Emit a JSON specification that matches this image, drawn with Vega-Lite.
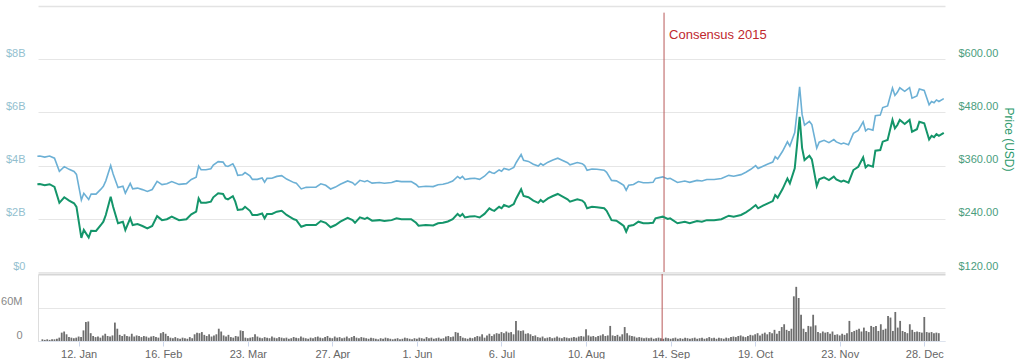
{
  "$schema": "https://vega.github.io/schema/vega-lite/v6.json",
  "padding": {"left": 0, "top": 6, "right": 0, "bottom": 0},
  "spacing": 0,
  "config": {
    "view": {"stroke": null},
    "font": "Liberation Sans",
    "axis": {"labelFont": "Liberation Sans", "titleFont": "Liberation Sans", "labelFontSize": 11}
  },
  "datasets": {
    "series": [
      {"date": "2014-12-28", "market_cap_bn": 4.352, "price": 318},
      {"date": "2014-12-29", "market_cap_bn": 4.360, "price": 318.5},
      {"date": "2014-12-31", "market_cap_bn": 4.321, "price": 315.5},
      {"date": "2015-01-02", "market_cap_bn": 4.358, "price": 318},
      {"date": "2015-01-04", "market_cap_bn": 4.278, "price": 312},
      {"date": "2015-01-06", "market_cap_bn": 3.786, "price": 276},
      {"date": "2015-01-08", "market_cap_bn": 3.960, "price": 288.5},
      {"date": "2015-01-10", "market_cap_bn": 3.859, "price": 281},
      {"date": "2015-01-12", "market_cap_bn": 3.778, "price": 275},
      {"date": "2015-01-13", "market_cap_bn": 3.669, "price": 267},
      {"date": "2015-01-15", "market_cap_bn": 2.709, "price": 197},
      {"date": "2015-01-16", "market_cap_bn": 2.957, "price": 215},
      {"date": "2015-01-18", "market_cap_bn": 2.725, "price": 198},
      {"date": "2015-01-19", "market_cap_bn": 2.932, "price": 213},
      {"date": "2015-01-21", "market_cap_bn": 2.927, "price": 212.5},
      {"date": "2015-01-23", "market_cap_bn": 3.114, "price": 226},
      {"date": "2015-01-24", "market_cap_bn": 3.218, "price": 233.5},
      {"date": "2015-01-25", "market_cap_bn": 3.427, "price": 248.6},
      {"date": "2015-01-27", "market_cap_bn": 4.000, "price": 290},
      {"date": "2015-01-28", "market_cap_bn": 3.684, "price": 267},
      {"date": "2015-01-30", "market_cap_bn": 3.175, "price": 230},
      {"date": "2015-02-01", "market_cap_bn": 3.225, "price": 233.5},
      {"date": "2015-02-02", "market_cap_bn": 2.966, "price": 214.7},
      {"date": "2015-02-04", "market_cap_bn": 3.331, "price": 241},
      {"date": "2015-02-05", "market_cap_bn": 3.125, "price": 226},
      {"date": "2015-02-07", "market_cap_bn": 3.154, "price": 228},
      {"date": "2015-02-09", "market_cap_bn": 3.097, "price": 223.8},
      {"date": "2015-02-11", "market_cap_bn": 3.027, "price": 218.6},
      {"date": "2015-02-13", "market_cap_bn": 3.101, "price": 223.8},
      {"date": "2015-02-15", "market_cap_bn": 3.410, "price": 246},
      {"date": "2015-02-17", "market_cap_bn": 3.287, "price": 237},
      {"date": "2015-02-19", "market_cap_bn": 3.316, "price": 239},
      {"date": "2015-02-21", "market_cap_bn": 3.399, "price": 244.8},
      {"date": "2015-02-24", "market_cap_bn": 3.293, "price": 237},
      {"date": "2015-02-27", "market_cap_bn": 3.323, "price": 239},
      {"date": "2015-03-01", "market_cap_bn": 3.478, "price": 250},
      {"date": "2015-03-03", "market_cap_bn": 3.564, "price": 256},
      {"date": "2015-03-04", "market_cap_bn": 3.982, "price": 286},
      {"date": "2015-03-05", "market_cap_bn": 3.844, "price": 276},
      {"date": "2015-03-07", "market_cap_bn": 3.846, "price": 276},
      {"date": "2015-03-09", "market_cap_bn": 3.884, "price": 278.6},
      {"date": "2015-03-10", "market_cap_bn": 4.023, "price": 288.5},
      {"date": "2015-03-12", "market_cap_bn": 4.151, "price": 297.5},
      {"date": "2015-03-14", "market_cap_bn": 4.132, "price": 296},
      {"date": "2015-03-15", "market_cap_bn": 3.993, "price": 286},
      {"date": "2015-03-16", "market_cap_bn": 3.966, "price": 284},
      {"date": "2015-03-18", "market_cap_bn": 4.066, "price": 291},
      {"date": "2015-03-19", "market_cap_bn": 3.894, "price": 278.6},
      {"date": "2015-03-20", "market_cap_bn": 3.635, "price": 260},
      {"date": "2015-03-22", "market_cap_bn": 3.658, "price": 261.5},
      {"date": "2015-03-23", "market_cap_bn": 3.736, "price": 267},
      {"date": "2015-03-25", "market_cap_bn": 3.612, "price": 258},
      {"date": "2015-03-26", "market_cap_bn": 3.481, "price": 248.6},
      {"date": "2015-03-28", "market_cap_bn": 3.483, "price": 248.6},
      {"date": "2015-03-30", "market_cap_bn": 3.532, "price": 252},
      {"date": "2015-03-31", "market_cap_bn": 3.379, "price": 241},
      {"date": "2015-04-01", "market_cap_bn": 3.520, "price": 251},
      {"date": "2015-04-03", "market_cap_bn": 3.522, "price": 251},
      {"date": "2015-04-05", "market_cap_bn": 3.594, "price": 256},
      {"date": "2015-04-07", "market_cap_bn": 3.624, "price": 258},
      {"date": "2015-04-09", "market_cap_bn": 3.494, "price": 248.6},
      {"date": "2015-04-12", "market_cap_bn": 3.361, "price": 239},
      {"date": "2015-04-13", "market_cap_bn": 3.334, "price": 237},
      {"date": "2015-04-15", "market_cap_bn": 3.124, "price": 222},
      {"date": "2015-04-17", "market_cap_bn": 3.183, "price": 226},
      {"date": "2015-04-19", "market_cap_bn": 3.184, "price": 226},
      {"date": "2015-04-21", "market_cap_bn": 3.186, "price": 226},
      {"date": "2015-04-23", "market_cap_bn": 3.314, "price": 235},
      {"date": "2015-04-25", "market_cap_bn": 3.259, "price": 231},
      {"date": "2015-04-27", "market_cap_bn": 3.120, "price": 221},
      {"date": "2015-04-29", "market_cap_bn": 3.192, "price": 226},
      {"date": "2015-05-01", "market_cap_bn": 3.300, "price": 233.5},
      {"date": "2015-05-04", "market_cap_bn": 3.423, "price": 242},
      {"date": "2015-05-06", "market_cap_bn": 3.354, "price": 237},
      {"date": "2015-05-07", "market_cap_bn": 3.270, "price": 231},
      {"date": "2015-05-09", "market_cap_bn": 3.447, "price": 243.4},
      {"date": "2015-05-11", "market_cap_bn": 3.393, "price": 239.5},
      {"date": "2015-05-12", "market_cap_bn": 3.437, "price": 242.5},
      {"date": "2015-05-14", "market_cap_bn": 3.342, "price": 235.7},
      {"date": "2015-05-17", "market_cap_bn": 3.363, "price": 237},
      {"date": "2015-05-19", "market_cap_bn": 3.336, "price": 235},
      {"date": "2015-05-22", "market_cap_bn": 3.367, "price": 237},
      {"date": "2015-05-24", "market_cap_bn": 3.426, "price": 241},
      {"date": "2015-05-26", "market_cap_bn": 3.399, "price": 239},
      {"date": "2015-05-30", "market_cap_bn": 3.402, "price": 239},
      {"date": "2015-06-01", "market_cap_bn": 3.290, "price": 231},
      {"date": "2015-06-02", "market_cap_bn": 3.198, "price": 224.5},
      {"date": "2015-06-05", "market_cap_bn": 3.222, "price": 226},
      {"date": "2015-06-08", "market_cap_bn": 3.211, "price": 225},
      {"date": "2015-06-10", "market_cap_bn": 3.283, "price": 230},
      {"date": "2015-06-12", "market_cap_bn": 3.299, "price": 231},
      {"date": "2015-06-14", "market_cap_bn": 3.344, "price": 234},
      {"date": "2015-06-16", "market_cap_bn": 3.417, "price": 239},
      {"date": "2015-06-18", "market_cap_bn": 3.591, "price": 251},
      {"date": "2015-06-19", "market_cap_bn": 3.520, "price": 246},
      {"date": "2015-06-20", "market_cap_bn": 3.592, "price": 251},
      {"date": "2015-06-21", "market_cap_bn": 3.479, "price": 243},
      {"date": "2015-06-23", "market_cap_bn": 3.509, "price": 245},
      {"date": "2015-06-25", "market_cap_bn": 3.525, "price": 246},
      {"date": "2015-06-27", "market_cap_bn": 3.484, "price": 243},
      {"date": "2015-06-29", "market_cap_bn": 3.600, "price": 251},
      {"date": "2015-07-01", "market_cap_bn": 3.783, "price": 263.6},
      {"date": "2015-07-02", "market_cap_bn": 3.732, "price": 260},
      {"date": "2015-07-03", "market_cap_bn": 3.705, "price": 258},
      {"date": "2015-07-05", "market_cap_bn": 3.836, "price": 267},
      {"date": "2015-07-06", "market_cap_bn": 3.789, "price": 263.7},
      {"date": "2015-07-07", "market_cap_bn": 3.895, "price": 271},
      {"date": "2015-07-09", "market_cap_bn": 3.839, "price": 267},
      {"date": "2015-07-11", "market_cap_bn": 3.934, "price": 273.4},
      {"date": "2015-07-12", "market_cap_bn": 4.116, "price": 286},
      {"date": "2015-07-14", "market_cap_bn": 4.414, "price": 306.6},
      {"date": "2015-07-15", "market_cap_bn": 4.197, "price": 291.4},
      {"date": "2015-07-17", "market_cap_bn": 4.157, "price": 288.5},
      {"date": "2015-07-19", "market_cap_bn": 4.051, "price": 281},
      {"date": "2015-07-21", "market_cap_bn": 3.981, "price": 276},
      {"date": "2015-07-22", "market_cap_bn": 4.074, "price": 282.4},
      {"date": "2015-07-23", "market_cap_bn": 4.012, "price": 278},
      {"date": "2015-07-25", "market_cap_bn": 4.129, "price": 286},
      {"date": "2015-07-27", "market_cap_bn": 4.209, "price": 291.4},
      {"date": "2015-07-29", "market_cap_bn": 4.278, "price": 296},
      {"date": "2015-07-31", "market_cap_bn": 4.193, "price": 290},
      {"date": "2015-08-02", "market_cap_bn": 4.109, "price": 284},
      {"date": "2015-08-03", "market_cap_bn": 4.031, "price": 278.6},
      {"date": "2015-08-06", "market_cap_bn": 4.113, "price": 284},
      {"date": "2015-08-08", "market_cap_bn": 4.071, "price": 281},
      {"date": "2015-08-09", "market_cap_bn": 4.000, "price": 276},
      {"date": "2015-08-10", "market_cap_bn": 3.823, "price": 263.7},
      {"date": "2015-08-12", "market_cap_bn": 3.872, "price": 267},
      {"date": "2015-08-14", "market_cap_bn": 3.860, "price": 266},
      {"date": "2015-08-17", "market_cap_bn": 3.829, "price": 263.7},
      {"date": "2015-08-18", "market_cap_bn": 3.747, "price": 258},
      {"date": "2015-08-20", "market_cap_bn": 3.444, "price": 237},
      {"date": "2015-08-22", "market_cap_bn": 3.427, "price": 235.7},
      {"date": "2015-08-24", "market_cap_bn": 3.316, "price": 228},
      {"date": "2015-08-25", "market_cap_bn": 3.256, "price": 223.8},
      {"date": "2015-08-26", "market_cap_bn": 3.071, "price": 211},
      {"date": "2015-08-27", "market_cap_bn": 3.258, "price": 223.8},
      {"date": "2015-08-29", "market_cap_bn": 3.291, "price": 226},
      {"date": "2015-08-31", "market_cap_bn": 3.402, "price": 233.5},
      {"date": "2015-09-02", "market_cap_bn": 3.353, "price": 230},
      {"date": "2015-09-04", "market_cap_bn": 3.355, "price": 230},
      {"date": "2015-09-06", "market_cap_bn": 3.371, "price": 231},
      {"date": "2015-09-07", "market_cap_bn": 3.518, "price": 241},
      {"date": "2015-09-10", "market_cap_bn": 3.576, "price": 244.8},
      {"date": "2015-09-12", "market_cap_bn": 3.500, "price": 239.5},
      {"date": "2015-09-13", "market_cap_bn": 3.523, "price": 241},
      {"date": "2015-09-16", "market_cap_bn": 3.365, "price": 230},
      {"date": "2015-09-19", "market_cap_bn": 3.418, "price": 233.5},
      {"date": "2015-09-21", "market_cap_bn": 3.369, "price": 230},
      {"date": "2015-09-24", "market_cap_bn": 3.445, "price": 235},
      {"date": "2015-09-26", "market_cap_bn": 3.424, "price": 233.5},
      {"date": "2015-09-28", "market_cap_bn": 3.477, "price": 237},
      {"date": "2015-10-01", "market_cap_bn": 3.480, "price": 237},
      {"date": "2015-10-04", "market_cap_bn": 3.512, "price": 239},
      {"date": "2015-10-07", "market_cap_bn": 3.632, "price": 247},
      {"date": "2015-10-09", "market_cap_bn": 3.601, "price": 244.8},
      {"date": "2015-10-12", "market_cap_bn": 3.660, "price": 248.6},
      {"date": "2015-10-14", "market_cap_bn": 3.752, "price": 254.7},
      {"date": "2015-10-16", "market_cap_bn": 3.861, "price": 262},
      {"date": "2015-10-18", "market_cap_bn": 3.996, "price": 271},
      {"date": "2015-10-19", "market_cap_bn": 3.889, "price": 263.7},
      {"date": "2015-10-21", "market_cap_bn": 3.978, "price": 269.6},
      {"date": "2015-10-23", "market_cap_bn": 4.060, "price": 275},
      {"date": "2015-10-25", "market_cap_bn": 4.135, "price": 280},
      {"date": "2015-10-26", "market_cap_bn": 4.339, "price": 293.7},
      {"date": "2015-10-27", "market_cap_bn": 4.250, "price": 287.6},
      {"date": "2015-10-29", "market_cap_bn": 4.539, "price": 307},
      {"date": "2015-10-31", "market_cap_bn": 4.896, "price": 331},
      {"date": "2015-11-01", "market_cap_bn": 4.734, "price": 320},
      {"date": "2015-11-03", "market_cap_bn": 5.240, "price": 354},
      {"date": "2015-11-04", "market_cap_bn": 6.070, "price": 410},
      {"date": "2015-11-05", "market_cap_bn": 6.960, "price": 470},
      {"date": "2015-11-06", "market_cap_bn": 5.925, "price": 400},
      {"date": "2015-11-07", "market_cap_bn": 5.520, "price": 372.6},
      {"date": "2015-11-09", "market_cap_bn": 5.662, "price": 382},
      {"date": "2015-11-10", "market_cap_bn": 5.545, "price": 374},
      {"date": "2015-11-12", "market_cap_bn": 4.658, "price": 314},
      {"date": "2015-11-13", "market_cap_bn": 4.882, "price": 329},
      {"date": "2015-11-15", "market_cap_bn": 4.952, "price": 333.6},
      {"date": "2015-11-17", "market_cap_bn": 4.864, "price": 327.5},
      {"date": "2015-11-19", "market_cap_bn": 4.978, "price": 335},
      {"date": "2015-11-20", "market_cap_bn": 4.890, "price": 329},
      {"date": "2015-11-22", "market_cap_bn": 4.813, "price": 323.7},
      {"date": "2015-11-23", "market_cap_bn": 4.849, "price": 326},
      {"date": "2015-11-25", "market_cap_bn": 4.783, "price": 321.4},
      {"date": "2015-11-27", "market_cap_bn": 5.211, "price": 350},
      {"date": "2015-11-29", "market_cap_bn": 5.325, "price": 357.5},
      {"date": "2015-12-01", "market_cap_bn": 5.644, "price": 378.7},
      {"date": "2015-12-02", "market_cap_bn": 5.307, "price": 356},
      {"date": "2015-12-03", "market_cap_bn": 5.382, "price": 361},
      {"date": "2015-12-05", "market_cap_bn": 5.333, "price": 357.5},
      {"date": "2015-12-06", "market_cap_bn": 5.873, "price": 393.6},
      {"date": "2015-12-08", "market_cap_bn": 5.897, "price": 395},
      {"date": "2015-12-09", "market_cap_bn": 6.181, "price": 414},
      {"date": "2015-12-11", "market_cap_bn": 6.244, "price": 418},
      {"date": "2015-12-13", "market_cap_bn": 6.920, "price": 463},
      {"date": "2015-12-14", "market_cap_bn": 6.637, "price": 444},
      {"date": "2015-12-15", "market_cap_bn": 6.753, "price": 451.6},
      {"date": "2015-12-16", "market_cap_bn": 6.925, "price": 463},
      {"date": "2015-12-18", "market_cap_bn": 6.794, "price": 454},
      {"date": "2015-12-20", "market_cap_bn": 6.932, "price": 463},
      {"date": "2015-12-21", "market_cap_bn": 6.536, "price": 436.5},
      {"date": "2015-12-23", "market_cap_bn": 6.622, "price": 442},
      {"date": "2015-12-24", "market_cap_bn": 6.878, "price": 459},
      {"date": "2015-12-26", "market_cap_bn": 6.827, "price": 455.4},
      {"date": "2015-12-28", "market_cap_bn": 6.285, "price": 419},
      {"date": "2015-12-29", "market_cap_bn": 6.406, "price": 427},
      {"date": "2015-12-30", "market_cap_bn": 6.363, "price": 424},
      {"date": "2015-12-31", "market_cap_bn": 6.469, "price": 431},
      {"date": "2016-01-01", "market_cap_bn": 6.411, "price": 427},
      {"date": "2016-01-03", "market_cap_bn": 6.519, "price": 434}
    ],
    "events": [
      {"event_date": "2015-09-10T12:00:00Z", "event": "Consensus 2015"}
    ]
  },
  "vconcat": [
    {
      "width": 907,
      "height": 266,
      "layer": [
        {
          "layer": [
            {
              "data": {"name": "series"},
              "mark": {"type": "line", "color": "#6cb0d5", "strokeWidth": 1.6},
              "encoding": {
                "x": {
                  "field": "date", "type": "temporal",
                  "scale": {"type": "utc", "domain": [{"year": 2014, "month": 12, "date": 28, "hours": 6, "utc": true}, {"year": 2016, "month": 1, "date": 3, "hours": 12, "utc": true}]},
                  "axis": {"orient": "top", "labels": false, "ticks": false, "grid": false, "domain": true, "domainColor": "#e3e3e3", "domainWidth": 1.5, "title": null, "minExtent": 0, "maxExtent": 0}
                },
                "y": {
                  "field": "market_cap_bn", "type": "quantitative",
                  "scale": {"domain": [0, 10]},
                  "axis": {"orient": "left", "values": [0, 2, 4, 6, 8], "labelExpr": "datum.value == 0 ? '$0' : '$' + datum.value + 'B'", "grid": true, "gridColor": "#e6e6e6", "ticks": false, "domain": false, "labelColor": "#93bfcf", "labelPadding": 13, "labelOffset": -6, "title": null, "minExtent": 36, "maxExtent": 36}
                }
              }
            },
            {
              "data": {"name": "events"},
              "mark": {"type": "rule", "color": "#b85858", "strokeWidth": 1},
              "encoding": {
                "x": {"field": "event_date", "type": "temporal", "title": null},
                "y": {"datum": 9.75, "type": "quantitative"},
                "y2": {"datum": 0}
              }
            },
            {
              "data": {"name": "events"},
              "mark": {"type": "text", "align": "left", "baseline": "middle", "dx": 5, "color": "#c0282e", "fontSize": 13, "font": "Liberation Sans"},
              "encoding": {
                "x": {"field": "event_date", "type": "temporal", "title": null},
                "y": {"datum": 8.9, "type": "quantitative"},
                "text": {"field": "event"}
              }
            }
          ]
        },
        {
          "data": {"name": "series"},
          "mark": {"type": "line", "color": "#14956a", "strokeWidth": 2},
          "encoding": {
            "x": {"field": "date", "type": "temporal", "title": null},
            "y": {
              "field": "price", "type": "quantitative",
              "scale": {"domain": [120, 720]},
              "axis": {"orient": "right", "values": [120, 240, 360, 480, 600], "labelExpr": "'$' + format(datum.value, '.2f')", "grid": false, "ticks": false, "domain": false, "labelColor": "#4a9d7d", "labelPadding": 13, "labelOffset": -6, "title": "Price (USD)", "titleColor": "#2e9a6c", "titleFontSize": 12, "titleFontWeight": "normal", "titlePadding": 4, "titleAngle": 90}
            }
          }
        }
      ],
      "resolve": {"scale": {"y": "independent"}, "axis": {"y": "independent"}}
    },
    {
      "width": 907,
      "height": 67,
      "layer": [
        {
          "data": {
            "values": [
              {"t": "2014-362", "v": 3}, {"t": "2014-363", "v": 2}, {"t": "2014-364", "v": 3}, {"t": "2014-365", "v": 2},
              {"t": "2015-001", "v": 3}, {"t": "2015-002", "v": 3}, {"t": "2015-003", "v": 4}, {"t": "2015-004", "v": 6}, {"t": "2015-005", "v": 15}, {"t": "2015-006", "v": 17}, {"t": "2015-007", "v": 12}, {"t": "2015-008", "v": 7}, {"t": "2015-009", "v": 6}, {"t": "2015-010", "v": 5},
              {"t": "2015-011", "v": 6}, {"t": "2015-012", "v": 8}, {"t": "2015-013", "v": 7}, {"t": "2015-014", "v": 19}, {"t": "2015-015", "v": 34}, {"t": "2015-016", "v": 35}, {"t": "2015-017", "v": 14}, {"t": "2015-018", "v": 9}, {"t": "2015-019", "v": 7}, {"t": "2015-020", "v": 8},
              {"t": "2015-021", "v": 6}, {"t": "2015-022", "v": 10}, {"t": "2015-023", "v": 13}, {"t": "2015-024", "v": 9}, {"t": "2015-025", "v": 8}, {"t": "2015-026", "v": 10}, {"t": "2015-027", "v": 33}, {"t": "2015-028", "v": 22}, {"t": "2015-029", "v": 11}, {"t": "2015-030", "v": 9},
              {"t": "2015-031", "v": 12}, {"t": "2015-032", "v": 9}, {"t": "2015-033", "v": 8}, {"t": "2015-034", "v": 13}, {"t": "2015-035", "v": 8}, {"t": "2015-036", "v": 10}, {"t": "2015-037", "v": 9}, {"t": "2015-038", "v": 7}, {"t": "2015-039", "v": 9}, {"t": "2015-040", "v": 8},
              {"t": "2015-041", "v": 6}, {"t": "2015-042", "v": 8}, {"t": "2015-043", "v": 9}, {"t": "2015-044", "v": 7}, {"t": "2015-045", "v": 6}, {"t": "2015-046", "v": 14}, {"t": "2015-047", "v": 16}, {"t": "2015-048", "v": 13}, {"t": "2015-049", "v": 9}, {"t": "2015-050", "v": 6},
              {"t": "2015-051", "v": 5}, {"t": "2015-052", "v": 7}, {"t": "2015-053", "v": 5}, {"t": "2015-054", "v": 4}, {"t": "2015-055", "v": 6}, {"t": "2015-056", "v": 5}, {"t": "2015-057", "v": 4}, {"t": "2015-058", "v": 7}, {"t": "2015-059", "v": 5}, {"t": "2015-060", "v": 12},
              {"t": "2015-061", "v": 15}, {"t": "2015-062", "v": 14}, {"t": "2015-063", "v": 16}, {"t": "2015-064", "v": 11}, {"t": "2015-065", "v": 9}, {"t": "2015-066", "v": 12}, {"t": "2015-067", "v": 8}, {"t": "2015-068", "v": 10}, {"t": "2015-069", "v": 12}, {"t": "2015-070", "v": 22},
              {"t": "2015-071", "v": 17}, {"t": "2015-072", "v": 10}, {"t": "2015-073", "v": 8}, {"t": "2015-074", "v": 11}, {"t": "2015-075", "v": 7}, {"t": "2015-076", "v": 6}, {"t": "2015-077", "v": 9}, {"t": "2015-078", "v": 8}, {"t": "2015-079", "v": 19}, {"t": "2015-080", "v": 18},
              {"t": "2015-081", "v": 6}, {"t": "2015-082", "v": 5}, {"t": "2015-083", "v": 6}, {"t": "2015-084", "v": 7}, {"t": "2015-085", "v": 12}, {"t": "2015-086", "v": 8}, {"t": "2015-087", "v": 6}, {"t": "2015-088", "v": 5}, {"t": "2015-089", "v": 7}, {"t": "2015-090", "v": 6},
              {"t": "2015-091", "v": 5}, {"t": "2015-092", "v": 8}, {"t": "2015-093", "v": 6}, {"t": "2015-094", "v": 5}, {"t": "2015-095", "v": 7}, {"t": "2015-096", "v": 6}, {"t": "2015-097", "v": 5}, {"t": "2015-098", "v": 6}, {"t": "2015-099", "v": 4}, {"t": "2015-100", "v": 5},
              {"t": "2015-101", "v": 7}, {"t": "2015-102", "v": 6}, {"t": "2015-103", "v": 5}, {"t": "2015-104", "v": 8}, {"t": "2015-105", "v": 6}, {"t": "2015-106", "v": 5}, {"t": "2015-107", "v": 4}, {"t": "2015-108", "v": 6}, {"t": "2015-109", "v": 5}, {"t": "2015-110", "v": 7},
              {"t": "2015-111", "v": 8}, {"t": "2015-112", "v": 6}, {"t": "2015-113", "v": 5}, {"t": "2015-114", "v": 7}, {"t": "2015-115", "v": 9}, {"t": "2015-116", "v": 6}, {"t": "2015-117", "v": 5}, {"t": "2015-118", "v": 8}, {"t": "2015-119", "v": 6}, {"t": "2015-120", "v": 7},
              {"t": "2015-121", "v": 5}, {"t": "2015-122", "v": 6}, {"t": "2015-123", "v": 8}, {"t": "2015-124", "v": 5}, {"t": "2015-125", "v": 7}, {"t": "2015-126", "v": 9}, {"t": "2015-127", "v": 6}, {"t": "2015-128", "v": 5}, {"t": "2015-129", "v": 7}, {"t": "2015-130", "v": 6},
              {"t": "2015-131", "v": 5}, {"t": "2015-132", "v": 4}, {"t": "2015-133", "v": 6}, {"t": "2015-134", "v": 5}, {"t": "2015-135", "v": 4}, {"t": "2015-136", "v": 3}, {"t": "2015-137", "v": 5}, {"t": "2015-138", "v": 4}, {"t": "2015-139", "v": 6}, {"t": "2015-140", "v": 5},
              {"t": "2015-141", "v": 4}, {"t": "2015-142", "v": 3}, {"t": "2015-143", "v": 4}, {"t": "2015-144", "v": 5}, {"t": "2015-145", "v": 3}, {"t": "2015-146", "v": 4}, {"t": "2015-147", "v": 6}, {"t": "2015-148", "v": 5}, {"t": "2015-149", "v": 4}, {"t": "2015-150", "v": 3},
              {"t": "2015-151", "v": 5}, {"t": "2015-152", "v": 4}, {"t": "2015-153", "v": 6}, {"t": "2015-154", "v": 5}, {"t": "2015-155", "v": 4}, {"t": "2015-156", "v": 7}, {"t": "2015-157", "v": 5}, {"t": "2015-158", "v": 6}, {"t": "2015-159", "v": 4}, {"t": "2015-160", "v": 5},
              {"t": "2015-161", "v": 6}, {"t": "2015-162", "v": 4}, {"t": "2015-163", "v": 5}, {"t": "2015-164", "v": 8}, {"t": "2015-165", "v": 9}, {"t": "2015-166", "v": 7}, {"t": "2015-167", "v": 8}, {"t": "2015-168", "v": 16}, {"t": "2015-169", "v": 15}, {"t": "2015-170", "v": 9},
              {"t": "2015-171", "v": 6}, {"t": "2015-172", "v": 5}, {"t": "2015-173", "v": 4}, {"t": "2015-174", "v": 6}, {"t": "2015-175", "v": 5}, {"t": "2015-176", "v": 7}, {"t": "2015-177", "v": 9}, {"t": "2015-178", "v": 8}, {"t": "2015-179", "v": 12}, {"t": "2015-180", "v": 6},
              {"t": "2015-181", "v": 10}, {"t": "2015-182", "v": 13}, {"t": "2015-183", "v": 9}, {"t": "2015-184", "v": 12}, {"t": "2015-185", "v": 14}, {"t": "2015-186", "v": 13}, {"t": "2015-187", "v": 16}, {"t": "2015-188", "v": 14}, {"t": "2015-189", "v": 17}, {"t": "2015-190", "v": 15},
              {"t": "2015-191", "v": 16}, {"t": "2015-192", "v": 12}, {"t": "2015-193", "v": 36}, {"t": "2015-194", "v": 19}, {"t": "2015-195", "v": 18}, {"t": "2015-196", "v": 19}, {"t": "2015-197", "v": 13}, {"t": "2015-198", "v": 14}, {"t": "2015-199", "v": 12}, {"t": "2015-200", "v": 9},
              {"t": "2015-201", "v": 10}, {"t": "2015-202", "v": 7}, {"t": "2015-203", "v": 6}, {"t": "2015-204", "v": 8}, {"t": "2015-205", "v": 5}, {"t": "2015-206", "v": 6}, {"t": "2015-207", "v": 7}, {"t": "2015-208", "v": 5}, {"t": "2015-209", "v": 6}, {"t": "2015-210", "v": 8},
              {"t": "2015-211", "v": 6}, {"t": "2015-212", "v": 5}, {"t": "2015-213", "v": 7}, {"t": "2015-214", "v": 6}, {"t": "2015-215", "v": 5}, {"t": "2015-216", "v": 6}, {"t": "2015-217", "v": 7}, {"t": "2015-218", "v": 6}, {"t": "2015-219", "v": 8}, {"t": "2015-220", "v": 9},
              {"t": "2015-221", "v": 8}, {"t": "2015-222", "v": 21}, {"t": "2015-223", "v": 10}, {"t": "2015-224", "v": 8}, {"t": "2015-225", "v": 9}, {"t": "2015-226", "v": 7}, {"t": "2015-227", "v": 9}, {"t": "2015-228", "v": 10}, {"t": "2015-229", "v": 12}, {"t": "2015-230", "v": 9},
              {"t": "2015-231", "v": 10}, {"t": "2015-232", "v": 27}, {"t": "2015-233", "v": 10}, {"t": "2015-234", "v": 9}, {"t": "2015-235", "v": 11}, {"t": "2015-236", "v": 8}, {"t": "2015-237", "v": 12}, {"t": "2015-238", "v": 25}, {"t": "2015-239", "v": 14}, {"t": "2015-240", "v": 10},
              {"t": "2015-241", "v": 9}, {"t": "2015-242", "v": 8}, {"t": "2015-243", "v": 6}, {"t": "2015-244", "v": 7}, {"t": "2015-245", "v": 6}, {"t": "2015-246", "v": 5}, {"t": "2015-247", "v": 6}, {"t": "2015-248", "v": 5}, {"t": "2015-249", "v": 6}, {"t": "2015-250", "v": 4},
              {"t": "2015-251", "v": 5}, {"t": "2015-252", "v": 6}, {"t": "2015-253", "v": 5}, {"t": "2015-254", "v": 4}, {"t": "2015-255", "v": 6}, {"t": "2015-256", "v": 5}, {"t": "2015-257", "v": 4}, {"t": "2015-258", "v": 5}, {"t": "2015-259", "v": 6}, {"t": "2015-260", "v": 4},
              {"t": "2015-261", "v": 5}, {"t": "2015-262", "v": 4}, {"t": "2015-263", "v": 6}, {"t": "2015-264", "v": 5}, {"t": "2015-265", "v": 4}, {"t": "2015-266", "v": 5}, {"t": "2015-267", "v": 6}, {"t": "2015-268", "v": 4}, {"t": "2015-269", "v": 5}, {"t": "2015-270", "v": 6},
              {"t": "2015-271", "v": 4}, {"t": "2015-272", "v": 5}, {"t": "2015-273", "v": 7}, {"t": "2015-274", "v": 5}, {"t": "2015-275", "v": 6}, {"t": "2015-276", "v": 4}, {"t": "2015-277", "v": 6}, {"t": "2015-278", "v": 5}, {"t": "2015-279", "v": 4}, {"t": "2015-280", "v": 6},
              {"t": "2015-281", "v": 5}, {"t": "2015-282", "v": 7}, {"t": "2015-283", "v": 8}, {"t": "2015-284", "v": 7}, {"t": "2015-285", "v": 9}, {"t": "2015-286", "v": 10}, {"t": "2015-287", "v": 8}, {"t": "2015-288", "v": 7}, {"t": "2015-289", "v": 9}, {"t": "2015-290", "v": 11},
              {"t": "2015-291", "v": 10}, {"t": "2015-292", "v": 12}, {"t": "2015-293", "v": 14}, {"t": "2015-294", "v": 10}, {"t": "2015-295", "v": 13}, {"t": "2015-296", "v": 15}, {"t": "2015-297", "v": 12}, {"t": "2015-298", "v": 16}, {"t": "2015-299", "v": 14}, {"t": "2015-300", "v": 20},
              {"t": "2015-301", "v": 13}, {"t": "2015-302", "v": 18}, {"t": "2015-303", "v": 25}, {"t": "2015-304", "v": 30}, {"t": "2015-305", "v": 20}, {"t": "2015-306", "v": 18}, {"t": "2015-307", "v": 22}, {"t": "2015-308", "v": 80}, {"t": "2015-309", "v": 97}, {"t": "2015-310", "v": 77},
              {"t": "2015-311", "v": 47}, {"t": "2015-312", "v": 22}, {"t": "2015-313", "v": 16}, {"t": "2015-314", "v": 27}, {"t": "2015-315", "v": 26}, {"t": "2015-316", "v": 47}, {"t": "2015-317", "v": 28}, {"t": "2015-318", "v": 16}, {"t": "2015-319", "v": 14}, {"t": "2015-320", "v": 17},
              {"t": "2015-321", "v": 15}, {"t": "2015-322", "v": 16}, {"t": "2015-323", "v": 13}, {"t": "2015-324", "v": 17}, {"t": "2015-325", "v": 11}, {"t": "2015-326", "v": 12}, {"t": "2015-327", "v": 10}, {"t": "2015-328", "v": 13}, {"t": "2015-329", "v": 11}, {"t": "2015-330", "v": 14},
              {"t": "2015-331", "v": 36}, {"t": "2015-332", "v": 16}, {"t": "2015-333", "v": 18}, {"t": "2015-334", "v": 20}, {"t": "2015-335", "v": 22}, {"t": "2015-336", "v": 17}, {"t": "2015-337", "v": 24}, {"t": "2015-338", "v": 18}, {"t": "2015-339", "v": 16}, {"t": "2015-340", "v": 27},
              {"t": "2015-341", "v": 25}, {"t": "2015-342", "v": 27}, {"t": "2015-343", "v": 18}, {"t": "2015-344", "v": 30}, {"t": "2015-345", "v": 20}, {"t": "2015-346", "v": 22}, {"t": "2015-347", "v": 45}, {"t": "2015-348", "v": 42}, {"t": "2015-349", "v": 18}, {"t": "2015-350", "v": 52},
              {"t": "2015-351", "v": 24}, {"t": "2015-352", "v": 36}, {"t": "2015-353", "v": 18}, {"t": "2015-354", "v": 16}, {"t": "2015-355", "v": 14}, {"t": "2015-356", "v": 30}, {"t": "2015-357", "v": 20}, {"t": "2015-358", "v": 16}, {"t": "2015-359", "v": 17}, {"t": "2015-360", "v": 16},
              {"t": "2015-361", "v": 15}, {"t": "2015-362", "v": 43}, {"t": "2015-363", "v": 16}, {"t": "2015-364", "v": 15}, {"t": "2015-365", "v": 16},
              {"t": "2016-001", "v": 14}, {"t": "2016-002", "v": 15}, {"t": "2016-003", "v": 14}
            ],
            "format": {"parse": {"t": "utc:'%Y-%j'"}}
          },
          "mark": {"type": "bar", "color": "#6e6e6e", "width": 1.8},
          "encoding": {
            "x": {
              "field": "t", "type": "temporal",
              "scale": {"type": "utc", "domain": [{"year": 2014, "month": 12, "date": 28, "hours": 6, "utc": true}, {"year": 2016, "month": 1, "date": 3, "hours": 12, "utc": true}]},
              "axis": {
                "orient": "bottom",
                "values": [
                  {"year": 2015, "month": 1, "date": 12, "utc": true},
                  {"year": 2015, "month": 2, "date": 16, "utc": true},
                  {"year": 2015, "month": 3, "date": 23, "utc": true},
                  {"year": 2015, "month": 4, "date": 27, "utc": true},
                  {"year": 2015, "month": 6, "date": 1, "utc": true},
                  {"year": 2015, "month": 7, "date": 6, "utc": true},
                  {"year": 2015, "month": 8, "date": 10, "utc": true},
                  {"year": 2015, "month": 9, "date": 14, "utc": true},
                  {"year": 2015, "month": 10, "date": 19, "utc": true},
                  {"year": 2015, "month": 11, "date": 23, "utc": true},
                  {"year": 2015, "month": 12, "date": 28, "utc": true}
                ],
                "labelExpr": "utcFormat(datum.value, '%-d. %b')",
                "grid": false, "domain": true, "domainColor": "#dde3ee", "ticks": true, "tickSize": 5, "tickColor": "#ccd6eb",
                "labelColor": "#666666", "labelPadding": 2, "labelFlush": false, "labelOverlap": false, "title": null
              }
            },
            "y": {
              "field": "v", "type": "quantitative",
              "scale": {"domain": [0, 120]},
              "axis": {"orient": "left", "values": [0, 60], "labelExpr": "datum.value == 0 ? '0' : datum.value + 'M'", "grid": true, "gridColor": "#e6e6e6", "ticks": false, "domain": true, "domainColor": "#dddddd", "labelColor": "#888888", "labelPadding": 16, "labelOffset": -6, "title": null, "minExtent": 36, "maxExtent": 36}
            }
          }
        },
        {
          "data": {"name": "events"},
          "mark": {"type": "rule", "color": "#b85858", "strokeWidth": 1},
          "encoding": {
            "x": {"field": "event_date", "type": "temporal", "axis": {"orient": "top", "labels": false, "ticks": false, "grid": false, "domain": true, "domainColor": "#d6d6d6", "domainWidth": 2, "title": null, "minExtent": 0, "maxExtent": 0}}
          }
        }
      ],
      "resolve": {"axis": {"x": "independent"}}
    }
  ]
}
